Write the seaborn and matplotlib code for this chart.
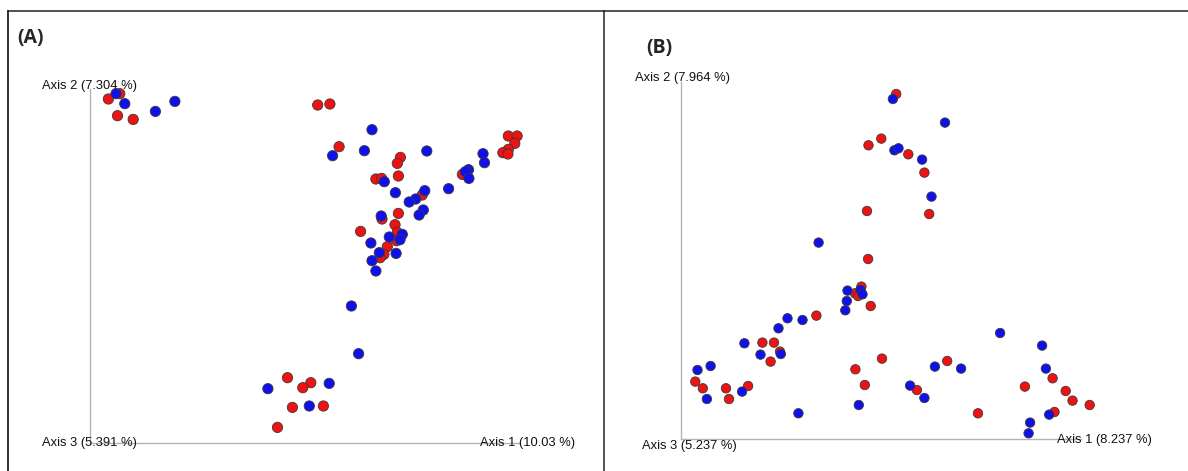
import matplotlib
matplotlib.use("Agg")
import matplotlib.pyplot as plt
import seaborn as sns
import pandas as pd

# ---------------- data (axis units) ----------------
# Panel A
a_red_x = [18.8, 30.2, 27.9, 43.6, 228.1, 240.3, 249.5, 310.8, 307.7, 308.8, 286.3, 292.0,
           332.6, 308.8, 292.4, 305.4, 271.0, 307.7, 306.9, 297.7, 294.3, 290.5, 372.8,
           418.7, 427.5, 425.2, 418.7, 413.3, 418.3, 197.9, 221.2, 213.2, 202.8, 233.8, 187.9]
a_red_y = [343.7, 349.0, 327.0, 323.3, 337.7, 338.7, 296.0, 285.3, 279.3, 266.7, 263.7, 264.3,
           247.7, 229.3, 223.7, 218.0, 211.3, 210.3, 202.0, 196.0, 188.3, 185.0, 268.3,
           306.7, 306.7, 299.3, 293.3, 290.0, 288.7, 65.0, 60.0, 55.0, 35.3, 36.7, 15.3]
a_blue_x = [26.4, 35.2, 65.8, 85.3, 282.4, 274.8, 243.0, 337.2, 294.7, 305.8, 335.2, 326.1,
            319.6, 359.0, 378.9, 375.8, 379.3, 393.4, 394.9, 333.7, 329.5, 291.6, 299.7,
            312.7, 310.4, 281.3, 306.5, 289.7, 282.4, 286.3, 261.8, 269.0, 239.6, 178.3, 219.7]
a_blue_y = [349.0, 339.0, 331.3, 341.3, 313.0, 292.0, 287.0, 291.7, 261.0, 250.0, 252.0, 243.7,
            240.7, 254.0, 273.0, 271.0, 264.3, 289.0, 280.0, 232.7, 227.7, 226.7, 205.7,
            208.3, 203.0, 199.7, 189.3, 190.0, 182.0, 171.7, 136.7, 89.0, 59.3, 54.0, 36.7]

# Panel B
b_red_x = [214.8, 199.9, 187.1, 226.9, 243.0, 185.6, 247.8, 186.7, 180.0, 173.6, 176.6, 189.3,
           135.0, 81.0, 92.6, 98.6, 89.2, 13.9, 21.4, 44.6, 66.7, 47.6, 200.6, 174.0, 183.4,
           235.5, 265.8, 296.6, 343.5, 371.2, 384.3, 391.1, 408.3, 373.1]
b_red_y = [345.3, 300.7, 294.0, 285.0, 266.7, 228.3, 225.3, 180.3, 152.7, 146.0, 143.3, 133.3,
           123.7, 96.7, 96.7, 87.7, 77.7, 57.7, 51.0, 51.0, 53.3, 40.3, 80.7, 70.0, 54.3,
           49.3, 78.3, 26.0, 52.7, 61.0, 48.3, 38.7, 34.3, 27.3]
b_blue_x = [211.5, 263.6, 213.0, 217.1, 240.7, 250.1, 137.2, 166.1, 179.2, 181.1, 165.4, 163.9,
            106.1, 121.1, 97.1, 63.0, 79.1, 99.4, 16.1, 29.2, 25.5, 60.7, 117.0, 177.4,
            228.7, 243.0, 253.5, 279.7, 318.7, 360.7, 364.5, 367.8, 348.7, 347.2]
b_blue_y = [340.3, 316.7, 289.0, 291.0, 279.7, 242.7, 196.7, 148.7, 149.3, 145.0, 138.3, 129.0,
            121.0, 119.3, 111.0, 96.0, 84.7, 85.3, 69.3, 73.3, 40.3, 47.7, 26.0, 34.3,
            53.7, 41.3, 72.7, 70.7, 106.3, 93.7, 70.7, 24.7, 16.7, 6.0]

groups = ["Group 1", "Group 2"]
colors = {"Group 1": "#f01212", "Group 2": "#1010ec"}

panel_titles = ["(A)", "(B)"]
a_axis_labels = ["Axis 1 (10.03 %)", "Axis 2 (7.304 %)", "Axis 3 (5.391 %)"]
b_axis_labels = ["Axis 1 (8.237 %)", "Axis 2 (7.964 %)", "Axis 3 (5.237 %)"]


def make_df(rx, ry, bx, by):
    return pd.DataFrame({
        "x": rx + bx,
        "y": ry + by,
        "group": [groups[0]] * len(rx) + [groups[1]] * len(bx),
    })


df_a = make_df(a_red_x, a_red_y, a_blue_x, a_blue_y)
df_b = make_df(b_red_x, b_red_y, b_blue_x, b_blue_y)

# ---------------- figure ----------------
sns.set_theme(style="white")
plt.rcParams["font.family"] = ["Liberation Sans", "DejaVu Sans"]

FW, FH = 1188, 471
fig = plt.figure(figsize=(FW / 100, FH / 100), dpi=100)
fig.patch.set_facecolor("white")


def px_axes(left, top, right, bottom):
    return fig.add_axes([left / FW, 1 - bottom / FH, (right - left) / FW, (bottom - top) / FH])


# outer frames
frame_col = "#222222"
fa = px_axes(8, 11, 604, 475)
fb = px_axes(604, 11, 1192, 475)
for f in (fa, fb):
    f.set_xticks([]); f.set_yticks([])
    f.patch.set_alpha(0)
    for s in ("bottom", "right"):
        f.spines[s].set_visible(False)
    f.spines["top"].set_visible(True)
    f.spines["left"].set_visible(True)
    f.spines["top"].set_color(frame_col)
    f.spines["left"].set_color(frame_col)
    f.spines["top"].set_linewidth(1.1)
    f.spines["left"].set_linewidth(1.3)
fb.spines["left"].set_color("#444444")


def draw_panel(df, x0, y0, W, H, size, labels, title, title_pos, label_pos):
    ax = px_axes(x0, y0 - H, x0 + W, y0)
    ax.patch.set_alpha(0)
    sns.scatterplot(data=df, x="x", y="y", hue="group", palette=colors, s=size,
                    edgecolor="#3a3a3a", linewidth=0.6, legend=False, ax=ax,
                    clip_on=False, zorder=3)
    ax.set_xlim(0, W)
    ax.set_ylim(0, H)
    ax.set_xticks([]); ax.set_yticks([])
    ax.set_xlabel(""); ax.set_ylabel("")
    for s in ("top", "right"):
        ax.spines[s].set_visible(False)
    for s in ("left", "bottom"):
        ax.spines[s].set_visible(True)
        ax.spines[s].set_color("#b4b4b4")
        ax.spines[s].set_linewidth(1.0)
        ax.spines[s].set_zorder(1)
    # axis titles
    for txt, (tx, ty) in zip(labels, label_pos):
        fig.text(tx / FW, 1 - ty / FH, txt, fontsize=9.3, color="#111111",
                 ha="left", va="center", zorder=5)
    fig.text(title_pos[0] / FW, 1 - title_pos[1] / FH, title, fontsize=14,
             fontweight="bold", ha="left", va="center",
             family=["Open Sans", "DejaVu Sans"])
    return ax


draw_panel(df_a, 89.6, 442.7, 430, 354, 55, a_axis_labels, panel_titles[0], (17, 38),
           [(480, 443), (42, 86), (42, 443)])
draw_panel(df_b, 681.4, 439.3, 400, 357.6, 46, b_axis_labels, panel_titles[1], (646, 48),
           [(1057, 440), (635, 78), (642, 446)])

fig.savefig("out.png", dpi=100, facecolor="white")
